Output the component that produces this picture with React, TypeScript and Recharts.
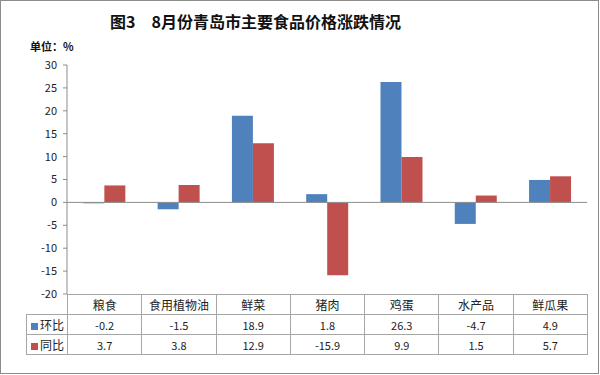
import { BarChart, Bar, XAxis, YAxis, ReferenceLine } from 'recharts';

const categories = ['粮食', '食用植物油', '鲜菜', '猪肉', '鸡蛋', '水产品', '鲜瓜果'];
const huanbi = [-0.2, -1.5, 18.9, 1.8, 26.3, -4.7, 4.9];
const tongbi = [3.7, 3.8, 12.9, -15.9, 9.9, 1.5, 5.7];
const yTicks = [-20, -15, -10, -5, 0, 5, 10, 15, 20, 25, 30];

const series = [
  { key: 'huanbi', name: '环比', color: '#4F81BD', values: huanbi },
  { key: 'tongbi', name: '同比', color: '#C0504D', values: tongbi },
];

const data = categories.map((name, i) => ({ name, huanbi: huanbi[i], tongbi: tongbi[i] }));

const FONT = '"Noto Sans CJK SC", "Liberation Sans", sans-serif';
const PLOT_LEFT = 67;
const PLOT_RIGHT = 587;
const PLOT_TOP = 65;
const PLOT_BOTTOM = 294;
const colW = (PLOT_RIGHT - PLOT_LEFT) / categories.length;
const rowH = 19;

const cell: React.CSSProperties = {
  border: '1px solid #a6a6a6',
  textAlign: 'center',
  padding: 0,
  height: rowH,
  fontSize: 11,
  color: '#222',
};

export default function App() {
  return (
    <div style={{ position: 'absolute', left: 0, top: 0, width: 600, height: 375, background: '#fff', fontFamily: FONT }}>
      <div style={{ position: 'absolute', left: 0, top: 0, width: 597, height: 372, border: '1px solid #8c8c8c' }} />
      <div style={{ position: 'absolute', left: 110, top: 9, fontSize: 16, fontWeight: 'bold', color: '#111', whiteSpace: 'pre' }}>
        图3　8月份青岛市主要食品价格涨跌情况
      </div>
      <div style={{ position: 'absolute', left: 30, top: 38, fontSize: 11, fontWeight: 'bold', color: '#111' }}>
        单位：%
      </div>
      <BarChart
        width={600}
        height={375}
        data={data}
        margin={{ top: PLOT_TOP, bottom: 375 - PLOT_BOTTOM, left: PLOT_LEFT - 40, right: 600 - PLOT_RIGHT }}
        barCategoryGap="22%"
        barGap={0}
        style={{ position: 'absolute', left: 0, top: 0 }}
      >
        <XAxis dataKey="name" hide />
        <YAxis
          width={40}
          domain={[-20, 30]}
          ticks={yTicks}
          interval={0}
          axisLine={{ stroke: '#8c8c8c' }}
          tickLine={{ stroke: '#8c8c8c' }}
          tickSize={4}
          tickMargin={6}
          tick={{ fontSize: 11, fill: '#222', fontFamily: FONT }}
        />
        <ReferenceLine y={0} stroke="#8c8c8c" />
        {series.map((s) => (
          <Bar key={s.key} dataKey={s.key} name={s.name} fill={s.color} isAnimationActive={false} />
        ))}
      </BarChart>
      <table
        style={{
          position: 'absolute',
          left: 26,
          top: PLOT_BOTTOM,
          borderCollapse: 'collapse',
          tableLayout: 'fixed',
          fontFamily: FONT,
        }}
      >
        <colgroup>
          <col style={{ width: PLOT_LEFT - 26 }} />
          {categories.map((c) => (
            <col key={c} style={{ width: colW }} />
          ))}
        </colgroup>
        <tbody>
          <tr>
            <td style={{ ...cell, border: 'none', borderRight: '1px solid #a6a6a6', borderBottom: '1px solid #a6a6a6' }} />
            {categories.map((c) => (
              <td key={c} style={{ ...cell, fontSize: 12 }}>{c}</td>
            ))}
          </tr>
          {series.map((s) => (
            <tr key={s.key}>
              <td style={{ ...cell, fontSize: 12, textAlign: 'left', whiteSpace: 'nowrap' }}>
                <span style={{ display: 'inline-block', width: 7, height: 7, background: s.color, marginLeft: 4, marginRight: 2 }} />
                {s.name}
              </td>
              {s.values.map((v, i) => (
                <td key={i} style={cell}>{v}</td>
              ))}
            </tr>
          ))}
        </tbody>
      </table>
    </div>
  );
}
